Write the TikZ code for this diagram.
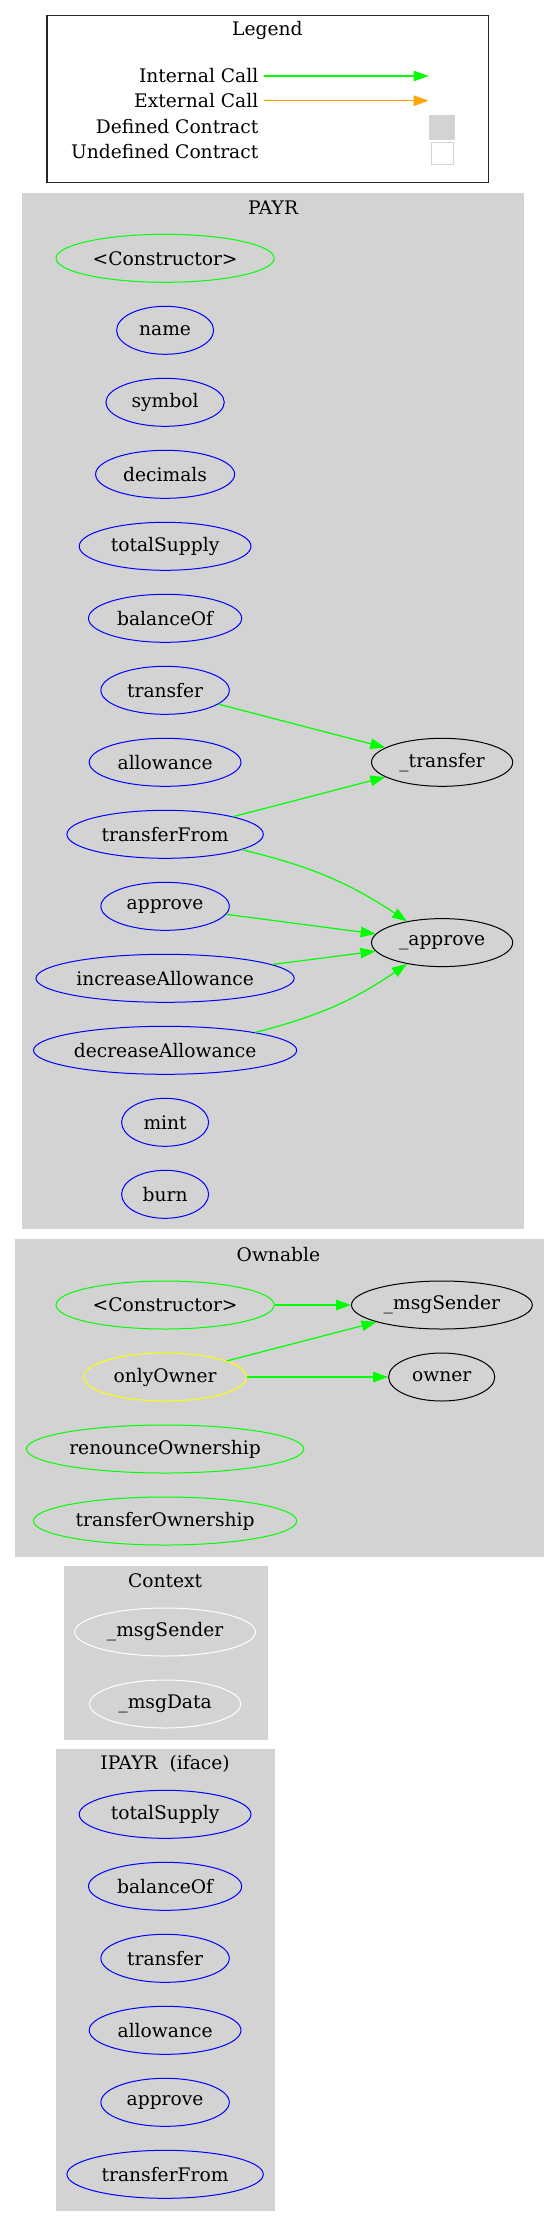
\documentclass[tikz,border=0pt]{standalone}
\usepackage{fontspec}
\setmainfont{DejaVu Serif}
\usetikzlibrary{shapes.geometric,arrows.meta}
\definecolor{cl}{HTML}{D3D3D3}
\definecolor{eg}{HTML}{00FF00}
\definecolor{eo}{HTML}{FFA500}
\definecolor{ey}{HTML}{FFFF00}
\definecolor{eb}{HTML}{0000FF}
\newcommand\fsz{\fontsize{18.67}{22}\selectfont}
\begin{document}
\begin{tikzpicture}[x=1pt,y=-1pt,font=\fsz,
  fn/.style={ellipse,draw=#1,line width=1pt,inner sep=0pt,minimum height=48pt,text=black},
  cluster/.style={fill=cl,draw=cl},
  ctitle/.style={inner sep=0pt},
  call/.style={draw=eg,line width=1.2pt,-{Triangle[length=15pt,width=10.5pt,fill=eg]}},
  ext/.style={draw=eo,line width=1.2pt,-{Triangle[length=15pt,width=10.5pt,fill=eo]}},
  key/.style={anchor=east,inner sep=0pt}]
\useasboundingbox (0,0) rectangle (559,2225);
\fill[white] (0,0) rectangle (559,2225);
% Legend
\draw[line width=1.3pt,draw=black!85] (47.1,15.3) rectangle (488.8,182.7);
\node[ctitle] (legtitle) at (267.4,30) {Legend};
\node[key] (kint) at (258.5,76) {Internal Call};
\node[key] (kext) at (258.5,100.7) {External Call};
\node[key] (kdef) at (258.5,126.7) {Defined Contract};
\node[key] (kund) at (258.5,152) {Undefined Contract};
\coordinate (ia) at (264.2,76);
\coordinate (ib) at (428.5,76);
\coordinate (ea) at (264.2,100.7);
\coordinate (eb2) at (428.5,100.7);
\draw[call] (ia) -- (ib);
\draw[ext] (ea) -- (eb2);
\fill[cl] (428.9,115) rectangle (455.3,139.7);
\draw[cl,line width=1pt,fill=white] (431,142.3) rectangle (453.1,164.3);
% Clusters
\draw[cluster] (22.5,192.7) rectangle (523.4,1228.3);
\node[ctitle] (tpayr) at (273.1,207.3) {PAYR};
\draw[cluster] (15.3,1239.1) rectangle (543,1556);
\node[ctitle] (town) at (278.4,1254.4) {Ownable};
\draw[cluster] (64.2,1566.3) rectangle (266.7,1739);
\node[ctitle] (tctx) at (165.1,1580.5) {Context};
\draw[cluster] (56,1748.9) rectangle (274.2,2209.7);
\node[ctitle] (tipayr) at (165.1,1763.8) {IPAYR\ \ (iface)};
% PAYR nodes
\node[fn=eg,minimum width=218.2pt] (p0) at (165.1,258.3) {<Constructor>};
\node[fn=eb,minimum width=97pt] (p1) at (165.1,330.3) {name};
\node[fn=eb,minimum width=118.4pt] (p2) at (165.1,402.3) {symbol};
\node[fn=eb,minimum width=139pt] (p3) at (165.1,474.3) {decimals};
\node[fn=eb,minimum width=171.8pt] (p4) at (165.1,546.3) {totalSupply};
\node[fn=eb,minimum width=153.2pt] (p5) at (165.1,618.3) {balanceOf};
\node[fn=eb,minimum width=128.4pt] (p6) at (165.1,690.3) {transfer};
\node[fn=eb,minimum width=151.8pt] (p7) at (165.1,762.3) {allowance};
\node[fn=eb,minimum width=196.4pt] (p8) at (165.1,834.3) {transferFrom};
\node[fn=eb,minimum width=128.4pt] (p9) at (165.1,906.3) {approve};
\node[fn=eb,minimum width=258.2pt] (p10) at (165.1,978.3) {increaseAllowance};
\node[fn=eb,minimum width=263.2pt] (p11) at (165.1,1050.3) {decreaseAllowance};
\node[fn=eb,minimum width=87pt] (p12) at (165.1,1122.3) {mint};
\node[fn=eb,minimum width=87pt] (p13) at (165.1,1194.3) {burn};
\node[fn=black,minimum width=141.2pt] (pt) at (442.1,762.3) {\_transfer};
\node[fn=black,minimum width=141.2pt] (pa) at (442.1,942.6) {\_approve};
\draw[call] (p6) -- (pt);
\draw[call] (p8) -- (pt);
\draw[call] (p8) to[bend left=10] (pa);
\draw[call] (p9) -- (pa);
\draw[call] (p10) -- (pa);
\draw[call] (p11) to[bend right=10] (pa);
% Ownable nodes
\node[fn=eg,minimum width=218.2pt] (o0) at (165.1,1305) {<Constructor>};
\node[fn=ey,minimum width=163pt] (o1) at (165.1,1377) {onlyOwner};
\node[fn=eg,minimum width=277.4pt] (o2) at (165.1,1449) {renounceOwnership};
\node[fn=eg,minimum width=263.2pt] (o3) at (165.1,1521) {transferOwnership};
\node[fn=black,minimum width=180.8pt] (oms) at (441.9,1305) {\_msgSender};
\node[fn=black,minimum width=106.2pt] (oow) at (441.7,1377) {owner};
\draw[call] (o0) -- (oms);
\draw[call] (o1) -- (oms);
\draw[call] (o1) -- (oow);
% Context nodes
\node[fn=white,minimum width=180.8pt] (c0) at (165.1,1632) {\_msgSender};
\node[fn=white,minimum width=151.2pt] (c1) at (165.1,1704) {\_msgData};
% IPAYR nodes
\node[fn=eb,minimum width=171.8pt] (i0) at (165.1,1814.3) {totalSupply};
\node[fn=eb,minimum width=153.2pt] (i1) at (165.1,1886.3) {balanceOf};
\node[fn=eb,minimum width=128.4pt] (i2) at (165.1,1958.3) {transfer};
\node[fn=eb,minimum width=151.8pt] (i3) at (165.1,2030.3) {allowance};
\node[fn=eb,minimum width=128.4pt] (i4) at (165.1,2102.3) {approve};
\node[fn=eb,minimum width=196.4pt] (i5) at (165.1,2174.3) {transferFrom};
\end{tikzpicture}
\end{document}
